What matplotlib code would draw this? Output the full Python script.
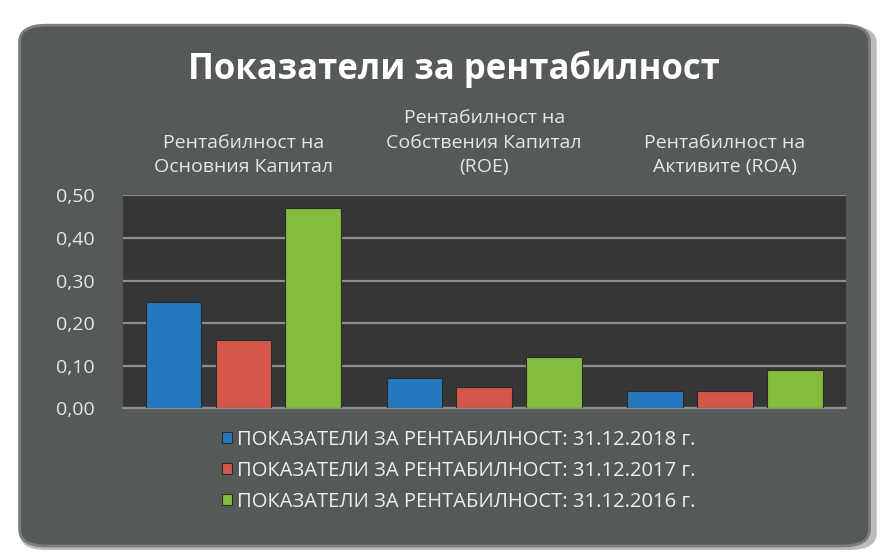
import numpy as np
import matplotlib
matplotlib.use("Agg")
import matplotlib.pyplot as plt
from matplotlib.patches import FancyBboxPatch
from matplotlib.ticker import FuncFormatter

plt.rcParams['font.family'] = ['Open Sans', 'DejaVu Sans']

# data
categories = ['Рентабилност на\nОсновния Капитал',
              'Рентабилност на\nСобствения Капитал\n(ROE)',
              'Рентабилност на\nАктивите (ROA)']
series_names = ['ПОКАЗАТЕЛИ ЗА РЕНТАБИЛНОСТ: 31.12.2018 г.',
                'ПОКАЗАТЕЛИ ЗА РЕНТАБИЛНОСТ: 31.12.2017 г.',
                'ПОКАЗАТЕЛИ ЗА РЕНТАБИЛНОСТ: 31.12.2016 г.']
v2018 = [0.25, 0.07, 0.04]
v2017 = [0.16, 0.05, 0.04]
v2016 = [0.47, 0.12, 0.09]
colors = ['#2479be', '#d4574a', '#84bd3d']

fig = plt.figure(figsize=(8.9, 5.6), dpi=100)
fig.patch.set_facecolor('white')

# rounded panel with shadow
shadow = FancyBboxPatch((0.022, 0.018), 0.963, 0.935, boxstyle='round,pad=0,rounding_size=0.03',
                        transform=fig.transFigure, facecolor='#b9bcba', edgecolor='none', zorder=0)
panel = FancyBboxPatch((0.022, 0.025), 0.955, 0.93, boxstyle='round,pad=0,rounding_size=0.03',
                       transform=fig.transFigure, facecolor='#565a57', edgecolor='#7b7f7c',
                       linewidth=2, zorder=1)
fig.patches.extend([shadow, panel])

ax = fig.add_axes([0.138, 0.271, 0.812, 0.38])
ax.set_facecolor('#363636')
ax.set_zorder(2)

x = np.arange(len(categories))
w = 0.23
step = 0.29
for i, (vals, name, c) in enumerate(zip([v2018, v2017, v2016], series_names, colors)):
    ax.bar(x + (i - 1) * step, vals, width=w, color=c, edgecolor='#2a2a2a',
           linewidth=0.8, label=name, zorder=3)

ax.set_xlim(-0.5, 2.5)
ax.set_ylim(0, 0.5)
ax.set_yticks(np.arange(0, 0.51, 0.1))
ax.yaxis.set_major_formatter(FuncFormatter(lambda v, p: f'{v:.2f}'.replace('.', ',')))
ax.grid(axis='y', color='#8e8e8e', linewidth=1.6, zorder=1)
ax.set_axisbelow(True)

ax.xaxis.tick_top()
ax.set_xticks(x)
ax.set_xticklabels(categories, color='#e6e6e6', fontsize=14, linespacing=1.45)
ax.tick_params(axis='x', length=0, pad=14)
ax.tick_params(axis='y', length=0, pad=20, labelcolor='#e6e6e6', labelsize=14)

for s in ['top', 'right', 'left']:
    ax.spines[s].set_visible(False)
ax.spines['bottom'].set_color('#8e8e8e')
ax.spines['bottom'].set_linewidth(1.6)

fig.text(0.51, 0.877, 'Показатели за рентабилност', ha='center', va='center',
         fontsize=25, fontweight='bold', color='white')

leg = fig.legend(loc='upper center', bbox_to_anchor=(0.515, 0.265), ncol=1, frameon=False,
                 fontsize=14.5, labelcolor='#eeeeee', handlelength=0.5, handleheight=0.5,
                 handletextpad=0.25, labelspacing=0.55)

fig.savefig('out.png', dpi=100, facecolor=fig.get_facecolor())
